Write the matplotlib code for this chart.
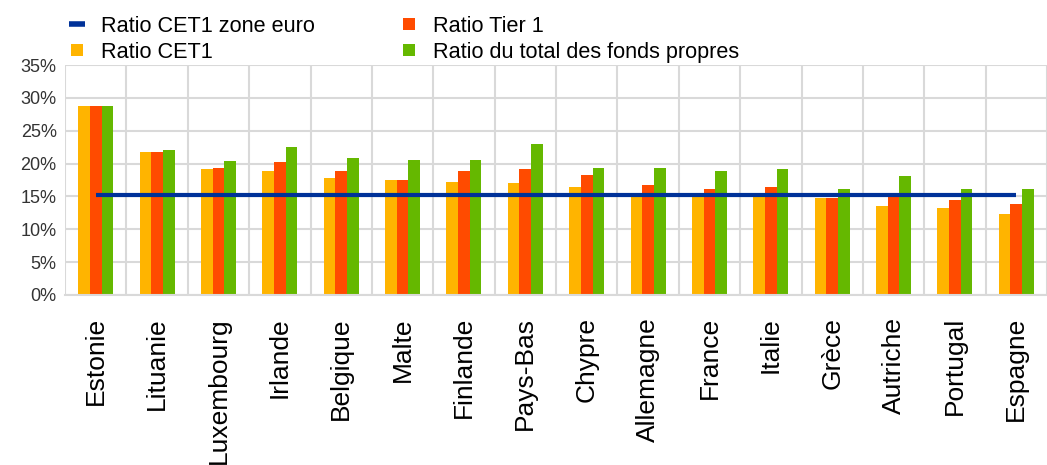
import numpy as np
import matplotlib
matplotlib.use("Agg")
import matplotlib.pyplot as plt
from matplotlib.lines import Line2D

# Data (in %)
countries = ["Estonie", "Lituanie", "Luxembourg", "Irlande", "Belgique", "Malte",
             "Finlande", "Pays-Bas", "Chypre", "Allemagne", "France", "Italie",
             "Grèce", "Autriche", "Portugal", "Espagne"]
cet1 = [28.8, 21.7, 19.1, 18.8, 17.8, 17.5, 17.2, 17.0, 16.5, 15.1, 15.1, 15.1,
        14.7, 13.6, 13.3, 12.3]
tier1 = [28.8, 21.7, 19.4, 20.2, 18.8, 17.5, 18.8, 19.1, 18.3, 16.7, 16.2, 16.5,
         14.7, 15.2, 14.4, 13.9]
total = [28.8, 22.0, 20.4, 22.5, 20.9, 20.6, 20.6, 23.0, 19.3, 19.3, 18.8, 19.1,
         16.2, 18.1, 16.2, 16.2]
cet1_euro_area = 15.2
yticks = [0, 5, 10, 15, 20, 25, 30, 35]

c_yellow = "#FFB400"
c_red = "#FF4B00"
c_green = "#65B800"
c_blue = "#003299"
c_grid = "#D9D9D9"

plt.rcParams["font.family"] = ["Liberation Sans", "DejaVu Sans"]

fig = plt.figure(figsize=(10.47, 4.65), dpi=100)
ax = fig.add_axes([0.0621, 0.3656, 0.9379, 0.4946])

x = np.arange(len(countries))
w = 0.19
ax.bar(x - w, cet1, w, color=c_yellow, zorder=2)
ax.bar(x, tier1, w, color=c_red, zorder=2)
ax.bar(x + w, total, w, color=c_green, zorder=2)
ax.plot(x, np.full(len(countries), cet1_euro_area), color=c_blue, lw=3,
        solid_capstyle="butt", zorder=3)

ax.set_xlim(-0.5, 15.29)
ax.set_ylim(0, 35)
ax.set_yticks(yticks)
ax.set_yticklabels([f"{v}%" for v in yticks], fontsize=13, color="#333333")
ax.set_xticks(x)
ax.set_xticklabels(countries, rotation=90, fontsize=19)
ax.set_xticks(np.arange(-0.5, len(countries), 1), minor=True)
ax.tick_params(axis="both", which="both", length=0)
ax.tick_params(axis="x", pad=16)
ax.tick_params(axis="y", pad=6)

ax.grid(axis="y", which="major", color=c_grid, lw=1.5, zorder=0)
ax.grid(axis="x", which="minor", color=c_grid, lw=1.5, zorder=0)
ax.grid(axis="x", which="major", visible=False)
for s in ["top", "right", "left"]:
    ax.spines[s].set_visible(False)
ax.spines["bottom"].set_color(c_grid)
ax.spines["bottom"].set_linewidth(1.5)

# legend: two columns, line + square markers
sq = dict(marker="s", markersize=8.6, linestyle="none", markeredgewidth=0)
handles = [
    Line2D([0], [0], color=c_blue, lw=4, solid_capstyle="butt"),
    Line2D([0], [0], color=c_yellow, **sq),
    Line2D([0], [0], color=c_red, **sq),
    Line2D([0], [0], color=c_green, **sq),
]
labels = ["Ratio CET1 zone euro", "Ratio CET1", "Ratio Tier 1",
          "Ratio du total des fonds propres"]
fig.legend(handles, labels, ncol=2, loc="upper left",
           bbox_to_anchor=(69 / 1047, 1 - 16 / 465),
           frameon=False, fontsize=15.6, handlelength=0.75,
           handletextpad=0.75, columnspacing=3.95, labelspacing=0.22,
           borderpad=0, borderaxespad=0)

fig.savefig("out.png", dpi=100)
